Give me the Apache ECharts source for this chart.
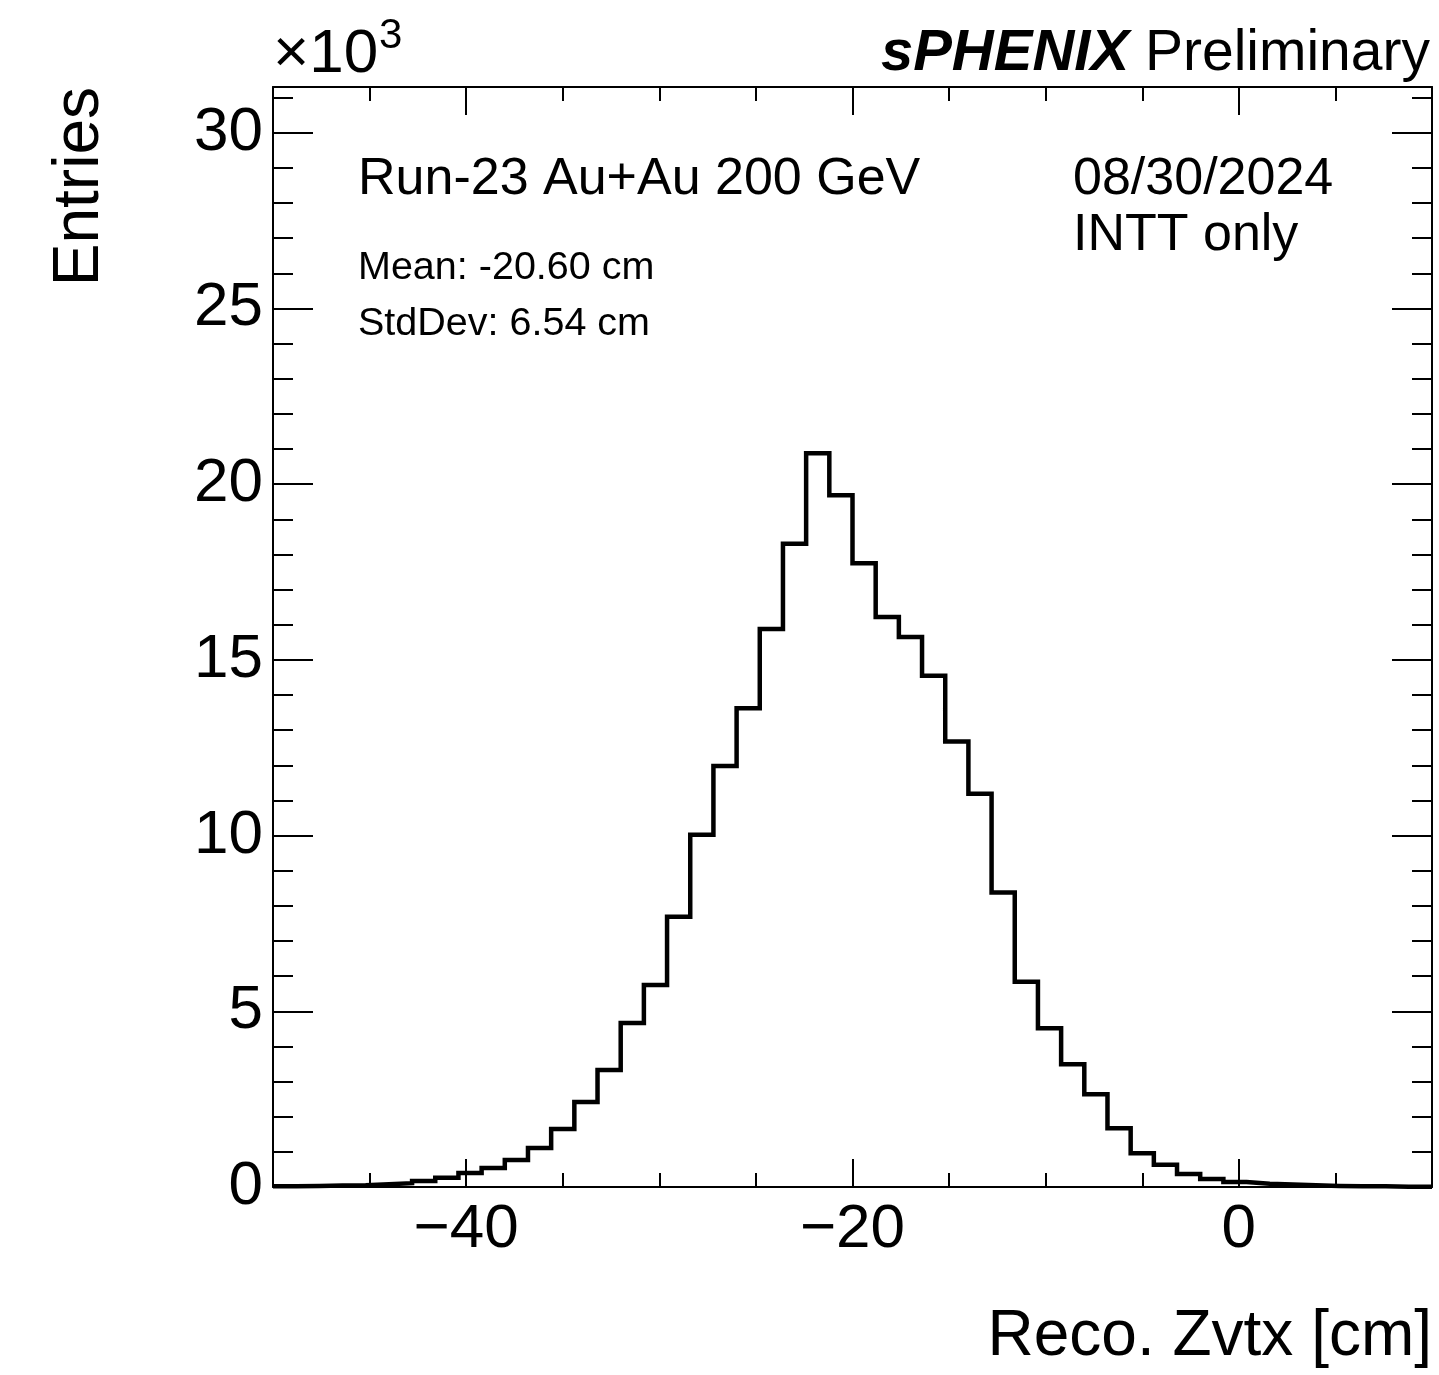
<!DOCTYPE html>
<html>
<head>
<meta charset="utf-8">
<script src="https://cdn.jsdelivr.net/npm/echarts@6/dist/echarts.min.js"></script>
<style>
html,body{margin:0;padding:0;background:#fff;}
#chart{width:1439px;height:1375px;}
</style>
</head>
<body>
<div id="chart"></div>
<script>
// ---- Data (entries in units of 10^3) ----
const binLow = -50;      // lower edge of first bin [cm]
const binWidth = 1.2;    // bin width [cm]
const binCounts = [
  0.02, 0.03, 0.04, 0.05, 0.08, 0.11, 0.17, 0.26, 0.40, 0.54,
  0.77, 1.11, 1.65, 2.42, 3.33, 4.67, 5.75, 7.69, 10.02, 11.98,
  13.62, 15.88, 18.30, 20.88, 19.68, 17.75, 16.22, 15.65, 14.55, 12.68,
  11.19, 8.38, 5.84, 4.52, 3.49, 2.64, 1.67, 0.96, 0.63, 0.37,
  0.23, 0.14, 0.09, 0.07, 0.05, 0.03, 0.02, 0.02, 0.01, 0.01
];
const xMajorTicks = [-40, -20, 0];
const xTickLabels = ['\u221240', '\u221220', '0'];
const yMajorTicks = [0, 5, 10, 15, 20, 25, 30];
const yTickLabels = ['0', '5', '10', '15', '20', '25', '30'];

const FONT = '"Liberation Sans", Arial, Helvetica, sans-serif';

// histogram outline points (bin edges -> counts), drawn as a step line
const histPoints = binCounts.map((v, i) => [binLow + i * binWidth, v]);
histPoints.push([binLow + binCounts.length * binWidth, binCounts[binCounts.length - 1]]);

const xMin = -50, xMax = 10, yMin = 0, yMax = 31.3;
const frame = { show: true, onZero: false, lineStyle: { color: '#000', width: 2 } };
const noLine = { show: false, onZero: false };
const tickStyle = { color: '#000', width: 2 };

function xAx(pos, major, labels) {
  return {
    type: 'value', position: pos, min: xMin, max: xMax,
    interval: 5,
    axisLine: major ? noLine : frame,
    splitLine: { show: false },
    axisTick: major
      ? { show: true, inside: true, length: 28, lineStyle: tickStyle, customValues: xMajorTicks }
      : { show: true, inside: true, length: 14, lineStyle: tickStyle },
    axisLabel: labels ? {
      show: true, customValues: xMajorTicks,
      formatter: v => { const k = xMajorTicks.indexOf(v); return k >= 0 ? xTickLabels[k] : ''; },
      fontSize: 62, fontFamily: FONT, color: '#000', margin: 12
    } : { show: false }
  };
}
function yAx(pos, major, labels) {
  return {
    type: 'value', position: pos, min: yMin, max: yMax,
    interval: 1,
    axisLine: major ? noLine : frame,
    splitLine: { show: false },
    axisTick: major
      ? { show: true, inside: true, length: 40, lineStyle: tickStyle, customValues: yMajorTicks }
      : { show: true, inside: true, length: 20, lineStyle: tickStyle },
    axisLabel: labels ? {
      show: true, customValues: yMajorTicks,
      formatter: v => { const k = yMajorTicks.indexOf(v); return k >= 0 ? yTickLabels[k] : ''; },
      fontSize: 62, fontFamily: FONT, color: '#000', margin: 10
    } : { show: false }
  };
}

const chart = echarts.init(document.getElementById('chart'), null, { renderer: 'canvas' });
chart.setOption({
  animation: false,
  backgroundColor: '#fff',
  grid: { left: 273, top: 87, width: 1159, height: 1100, outerBoundsMode: 'none', containLabel: false },
  xAxis: [xAx('bottom', false, true), xAx('bottom', true, false), xAx('top', false, false), xAx('top', true, false)],
  yAxis: [yAx('left', false, true), yAx('left', true, false), yAx('right', false, false), yAx('right', true, false)],
  series: [{
    type: 'line', xAxisIndex: 0, yAxisIndex: 0,
    step: 'end', showSymbol: false, symbol: 'none',
    data: histPoints, clip: true,
    lineStyle: { color: '#000', width: 4.5, join: 'miter', cap: 'butt' }
  }],
  graphic: [
    { type: 'text', x: 273, y: 55, style: { text: '\u00d710', font: '62px ' + FONT, fill: '#000', align: 'left', verticalAlign: 'middle' } },
    { type: 'text', x: 379, y: 36, style: { text: '3', font: '42px ' + FONT, fill: '#000', align: 'left', verticalAlign: 'middle' } },
    { type: 'text', x: 1430, y: 54, style: {
        text: '{b|sPHENIX}{r| Preliminary}', align: 'right', verticalAlign: 'middle', fill: '#000',
        rich: {
          b: { fontFamily: FONT, fontSize: 58, fontWeight: 'bold', fontStyle: 'italic', fill: '#000' },
          r: { fontFamily: FONT, fontSize: 57, fill: '#000' }
        } } },
    { type: 'text', x: 80, y: 87, rotation: Math.PI / 2, style: { text: 'Entries', font: '64px ' + FONT, fill: '#000', align: 'right', verticalAlign: 'middle' } },
    { type: 'text', x: 1432, y: 1337, style: { text: 'Reco. Zvtx [cm]', font: '64px ' + FONT, fill: '#000', align: 'right', verticalAlign: 'middle' } },
    { type: 'text', x: 358, y: 180, style: { text: 'Run-23 Au+Au 200 GeV', font: '52px ' + FONT, fill: '#000', align: 'left', verticalAlign: 'middle' } },
    { type: 'text', x: 358, y: 268, style: { text: 'Mean: -20.60 cm', font: '39.5px ' + FONT, fill: '#000', align: 'left', verticalAlign: 'middle' } },
    { type: 'text', x: 358, y: 324, style: { text: 'StdDev: 6.54 cm', font: '39.5px ' + FONT, fill: '#000', align: 'left', verticalAlign: 'middle' } },
    { type: 'text', x: 1073, y: 180, style: { text: '08/30/2024', font: '52px ' + FONT, fill: '#000', align: 'left', verticalAlign: 'middle' } },
    { type: 'text', x: 1073, y: 236, style: { text: 'INTT only', font: '52px ' + FONT, fill: '#000', align: 'left', verticalAlign: 'middle' } }
  ]
});
</script>
</body>
</html>
